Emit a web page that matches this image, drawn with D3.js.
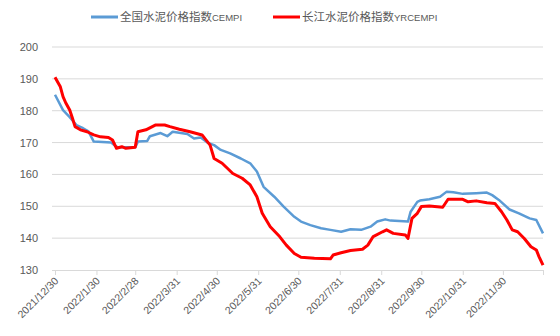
<!DOCTYPE html>
<html><head><meta charset="utf-8">
<script src="https://cdn.jsdelivr.net/npm/d3@7"></script>
<style>body{margin:0;background:#fff;} text{font-family:"Liberation Sans","Noto Sans CJK SC",sans-serif;}</style>
</head><body><svg id="c" width="560" height="336"></svg>
<script>
const seriesNames = ["全国水泥价格指数", "长江水泥价格指数"];
const seriesCodes = ["CEMPI", "YRCEMPI"];
const seriesColors = ["#5B9BD5", "#FF0000"];
const yTicks = [130,140,150,160,170,180,190,200];
const xTickLabels = ["2021/12/30","2022/1/30","2022/2/28","2022/3/31","2022/4/30","2022/5/31","2022/6/30","2022/7/31","2022/8/31","2022/9/30","2022/10/31","2022/11/30",""];
const xTickDates = ["2021-12-30","2022-01-30","2022-02-28","2022-03-31","2022-04-30","2022-05-31","2022-06-30","2022-07-31","2022-08-31","2022-09-30","2022-10-31","2022-11-30","2022-12-30"];
const cempiDates = ["2021-12-30","2022-01-05","2022-01-10","2022-01-15","2022-01-20","2022-01-24","2022-01-28","2022-02-10","2022-02-13","2022-02-15","2022-02-28","2022-03-02","2022-03-09","2022-03-11","2022-03-19","2022-03-24","2022-03-28","2022-04-08","2022-04-13","2022-04-18","2022-04-23","2022-04-28","2022-05-03","2022-05-10","2022-05-18","2022-05-25","2022-05-30","2022-06-04","2022-06-12","2022-06-19","2022-06-27","2022-07-02","2022-07-09","2022-07-17","2022-07-24","2022-08-01","2022-08-08","2022-08-16","2022-08-23","2022-08-28","2022-09-03","2022-09-07","2022-09-20","2022-09-22","2022-09-27","2022-09-29","2022-10-06","2022-10-14","2022-10-19","2022-10-24","2022-10-31","2022-11-10","2022-11-18","2022-11-22","2022-11-27","2022-12-05","2022-12-12","2022-12-20","2022-12-25","2022-12-30"];
const cempiValues = [185,180.2,178,175.5,174.5,173.5,170.3,170,169,168.5,168.5,170.3,170.5,172,173,172,173.4,172.7,171.3,171.6,170,169.2,167.7,166.6,165,163.5,160.9,156.1,153,149.9,146.7,145.2,144.1,143.1,142.6,142,142.8,142.6,143.6,145.2,145.9,145.5,145.2,148.3,151.4,151.8,152.2,153,154.6,154.4,153.9,154.1,154.3,153.5,152,149,147.8,146.2,145.7,141.5];
const yrDates = ["2021-12-30","2022-01-03","2022-01-05","2022-01-07","2022-01-10","2022-01-12","2022-01-14","2022-01-18","2022-01-23","2022-01-28","2022-02-02","2022-02-08","2022-02-11","2022-02-14","2022-02-18","2022-02-21","2022-02-28","2022-03-02","2022-03-08","2022-03-15","2022-03-22","2022-03-26","2022-04-02","2022-04-10","2022-04-19","2022-04-25","2022-04-28","2022-05-04","2022-05-12","2022-05-19","2022-05-25","2022-05-30","2022-06-03","2022-06-09","2022-06-16","2022-06-21","2022-06-27","2022-07-02","2022-07-12","2022-07-24","2022-07-26","2022-08-01","2022-08-08","2022-08-17","2022-08-21","2022-08-25","2022-09-01","2022-09-04","2022-09-09","2022-09-18","2022-09-20","2022-09-23","2022-09-27","2022-09-30","2022-10-06","2022-10-16","2022-10-20","2022-10-31","2022-11-04","2022-11-10","2022-11-18","2022-11-24","2022-11-29","2022-12-03","2022-12-07","2022-12-11","2022-12-16","2022-12-21","2022-12-25","2022-12-27","2022-12-30"];
const yrValues = [190.5,187.5,184.4,182.5,180.2,177.7,175,174,173.4,172.4,171.8,171.6,170.8,168.2,168.7,168.2,168.5,173.4,174,175.5,175.5,175,174.2,173.4,172.4,169.2,165,163.5,160.3,158.8,156.7,153,147.8,143.6,140.5,137.8,135.2,134,133.7,133.5,134.7,135.4,136.1,136.5,137.8,140.5,142,142.6,141.5,141,139.9,146.2,147.8,149.9,150.1,149.7,152.2,152.2,151.4,151.7,151.1,150.9,148.3,145.7,142.6,142,139.9,137.3,136.3,134.2,131.5];

const parse = d3.timeParse("%Y-%m-%d");
const svg = d3.select("#c");
const x = d3.scaleTime().domain([parse(xTickDates[0]), parse(xTickDates[xTickDates.length-1])]).range([55, 543]);
const y = d3.scaleLinear().domain([130, 200]).range([270, 47]);

// grid
svg.append("g").selectAll("line").data(yTicks.filter(v=>v>130)).join("line")
  .attr("x1", 52).attr("x2", 543).attr("y1", d=>y(d)).attr("y2", d=>y(d))
  .attr("stroke", "#d9d9d9").attr("stroke-width", 1);

// y labels
svg.append("g").selectAll("text").data(yTicks).join("text")
  .attr("x", 38).attr("y", d=>y(d)+4).attr("text-anchor","end")
  .attr("font-size", 11).attr("fill", "#595959").text(d=>d);

// x axis
const xAxis = d3.axisBottom(x).tickValues(xTickDates.map(parse)).tickSize(5)
  .tickFormat((d,i)=>xTickLabels[i]);
const gx = svg.append("g").attr("transform","translate(0,270)").call(xAxis);
gx.select(".domain").attr("stroke","#d9d9d9").attr("d","M52,0.5H543");
gx.selectAll(".tick line").attr("stroke","#d9d9d9");
gx.selectAll(".tick text").attr("font-size",10.5).attr("fill","#595959")
  .attr("font-family","Liberation Sans, sans-serif")
  .attr("text-anchor","end").attr("x",0).attr("y",0).attr("dy","0.35em")
  .attr("transform","translate(1,9) rotate(-45)");

// lines
const line = d3.line().x(d=>x(d[0])).y(d=>y(d[1])).curve(d3.curveLinear);
const s1 = cempiDates.map((d,i)=>[parse(d), cempiValues[i]]);
const s2 = yrDates.map((d,i)=>[parse(d), yrValues[i]]);
svg.append("path").datum(s1).attr("d", line).attr("fill","none").attr("stroke",seriesColors[0]).attr("stroke-width",2.5).attr("stroke-linejoin","round");
svg.append("path").datum(s2).attr("d", line).attr("fill","none").attr("stroke",seriesColors[1]).attr("stroke-width",3).attr("stroke-linejoin","round");

// legend
const legX = [91, 273];
const lg = svg.append("g");
seriesNames.forEach((n,i)=>{
  lg.append("line").attr("x1",legX[i]).attr("x2",legX[i]+27).attr("y1",17).attr("y2",17)
    .attr("stroke",seriesColors[i]).attr("stroke-width",3);
  const t = lg.append("text").attr("x",legX[i]+29).attr("y",21).attr("fill","#595959")
    .attr("font-family","Noto Sans CJK SC, sans-serif");
  t.append("tspan").attr("font-size",11.5).text(n);
  t.append("tspan").attr("font-size",9.5).attr("font-family","Liberation Sans, sans-serif").text(seriesCodes[i]);
});
</script></body></html>
